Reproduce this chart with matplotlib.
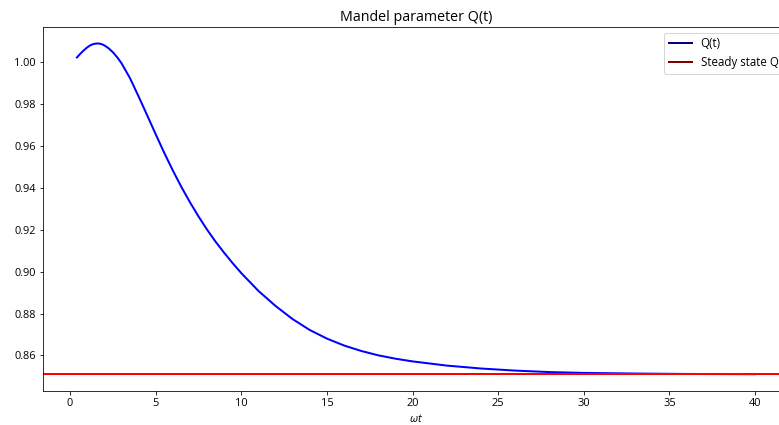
import matplotlib
matplotlib.use("Agg")
import matplotlib.pyplot as plt
from matplotlib.lines import Line2D

plt.rcParams['font.family'] = ['Open Sans', 'DejaVu Sans']
plt.rcParams['mathtext.fontset'] = 'custom'
plt.rcParams['mathtext.it'] = 'Open Sans:italic'
plt.rcParams['mathtext.rm'] = 'Open Sans'

t_vals = [0.4, 0.6, 0.8, 1.0, 1.2, 1.4, 1.6, 1.8, 2.0, 2.25, 2.5, 2.75, 3.0,
          3.5, 4.0, 4.5, 5.0, 5.5, 6.0, 6.5, 7.0, 7.5, 8.0, 8.5, 9.0, 9.5,
          10.0, 11.0, 12.0, 13.0, 14.0, 15.0, 16.0, 17.0, 18.0, 19.0, 20.0,
          22.0, 24.0, 26.0, 28.0, 30.0, 33.0, 36.0, 40.0]
q_vals = [1.0024, 1.0042, 1.0058, 1.0072, 1.0083, 1.0089, 1.0091, 1.0089,
          1.0082, 1.0068, 1.0049, 1.0025, 0.9997, 0.9925, 0.9838, 0.9748,
          0.9657, 0.9568, 0.9484, 0.9405, 0.9332, 0.9264, 0.9201, 0.9143,
          0.9090, 0.9040, 0.8993, 0.8908, 0.8836, 0.8773, 0.8721, 0.8680,
          0.8647, 0.8621, 0.8600, 0.8584, 0.8571, 0.8551, 0.8537, 0.8527,
          0.8520, 0.8516, 0.8513, 0.8511, 0.8510]
q_steady = 0.851

fig = plt.figure(figsize=(779 / 72, 425 / 72), dpi=72)
ax = fig.add_axes([0.0552, 0.0807, 0.9576, 0.856])
ax.plot(t_vals, q_vals, color="blue", lw=2)
ax.axhline(q_steady, color="red", lw=2)
handles = [Line2D([], [], color="navy", lw=2), Line2D([], [], color="maroon", lw=2)]
ax.legend(handles, ["Q(t)", "Steady state Q"], loc="upper right", fontsize=11.5)
ax.set_title("Mandel parameter Q(t)", fontsize=14.3)
ax.set_xlabel(r"$\omega t$", fontsize=11)
ax.tick_params(labelsize=11)
fig.savefig("out.png", dpi=72)
